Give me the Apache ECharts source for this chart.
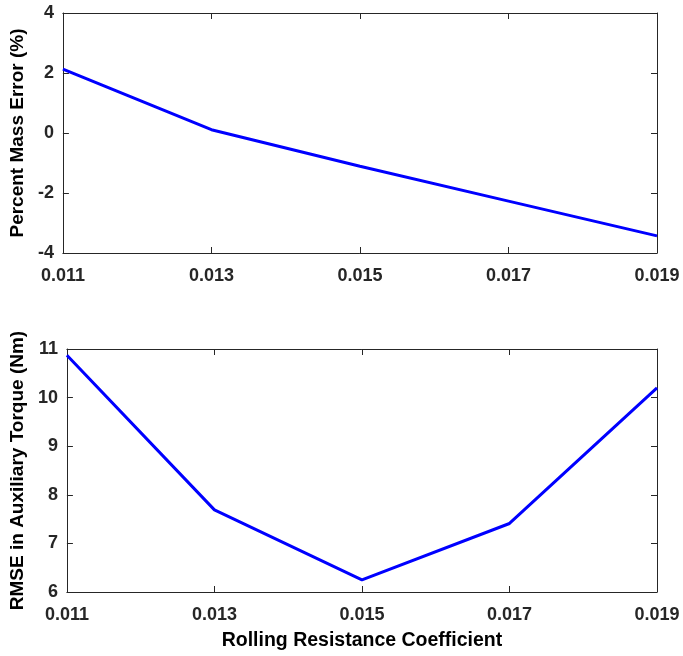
<!DOCTYPE html>
<html>
<head>
<meta charset="utf-8">
<script src="https://cdn.jsdelivr.net/npm/echarts@6/dist/echarts.min.js"></script>
<style>
html,body{margin:0;padding:0;background:#fff;}
#chart{width:683px;height:656px;}
</style>
</head>
<body>
<div id="chart"></div>
<script>
const categories = ['0.011', '0.013', '0.015', '0.017', '0.019'];
const massError = [2.13, 0.11, -1.11, -2.27, -3.43];
const rmseTorque = [10.87, 7.69, 6.25, 7.41, 10.20];
const massTicks = { min: -4, max: 4, interval: 2 };
const rmseTicks = { min: 6, max: 11, interval: 1 };

const FONT = 'Liberation Sans';
const AX = '#262626';
const chart = echarts.init(document.getElementById('chart'), null, { renderer: 'canvas' });

function xMain(gridIndex, name) {
  return {
    type: 'category', gridIndex, data: categories, boundaryGap: false,
    position: 'bottom',
    axisLine: { show: true, onZero: false, lineStyle: { color: AX, width: 1 } },
    axisTick: { show: true, inside: true, length: 6, alignWithLabel: true, lineStyle: { color: AX } },
    axisLabel: { show: true, margin: 14, color: AX, fontFamily: FONT, fontWeight: 'bold', fontSize: 18 },
    splitLine: { show: false },
    name: name || '', nameLocation: 'middle', nameGap: 39,
    nameTextStyle: { color: '#000', fontFamily: FONT, fontWeight: 'bold', fontSize: 19.5 }
  };
}
function xTop(gridIndex) {
  return {
    type: 'category', gridIndex, data: categories, boundaryGap: false,
    position: 'top',
    axisLine: { show: true, onZero: false, lineStyle: { color: AX, width: 1 } },
    axisTick: { show: true, inside: true, length: 6, alignWithLabel: true, lineStyle: { color: AX } },
    axisLabel: { show: false }, splitLine: { show: false }
  };
}
function yMain(gridIndex, t, name) {
  return {
    type: 'value', gridIndex, min: t.min, max: t.max, interval: t.interval,
    position: 'left',
    axisLine: { show: true, onZero: false, lineStyle: { color: AX, width: 1 } },
    axisTick: { show: true, inside: true, length: 6, lineStyle: { color: AX } },
    axisLabel: { show: true, margin: 9, color: AX, fontFamily: FONT, fontWeight: 'bold', fontSize: 18 },
    splitLine: { show: false },
    name, nameLocation: 'middle', nameGap: 33, nameRotate: 90,
    nameTextStyle: { color: '#000', fontFamily: FONT, fontWeight: 'bold', fontSize: 19 }
  };
}
function yRight(gridIndex, t) {
  return {
    type: 'value', gridIndex, min: t.min, max: t.max, interval: t.interval,
    position: 'right',
    axisLine: { show: true, onZero: false, lineStyle: { color: AX, width: 1 } },
    axisTick: { show: true, inside: true, length: 6, lineStyle: { color: AX } },
    axisLabel: { show: false }, splitLine: { show: false }
  };
}

chart.setOption({
  animation: false,
  backgroundColor: '#fff',
  grid: [
    { left: 62, top: 13, width: 595, height: 240 },
    { left: 62, top: 349, width: 595, height: 243 }
  ],
  xAxis: [xMain(0), xTop(0), xMain(1, 'Rolling Resistance Coefficient'), xTop(1)],
  yAxis: [yMain(0, massTicks, 'Percent Mass Error (%)'), yRight(0, massTicks),
          yMain(1, rmseTicks, 'RMSE in Auxiliary Torque (Nm)'), yRight(1, rmseTicks)],
  series: [
    { type: 'line', xAxisIndex: 0, yAxisIndex: 0, data: massError, showSymbol: false,
      lineStyle: { color: '#0000ff', width: 3 }, itemStyle: { color: '#0000ff' } },
    { type: 'line', xAxisIndex: 2, yAxisIndex: 2, data: rmseTorque, showSymbol: false,
      lineStyle: { color: '#0000ff', width: 3 }, itemStyle: { color: '#0000ff' } }
  ]
});
</script>
</body>
</html>
